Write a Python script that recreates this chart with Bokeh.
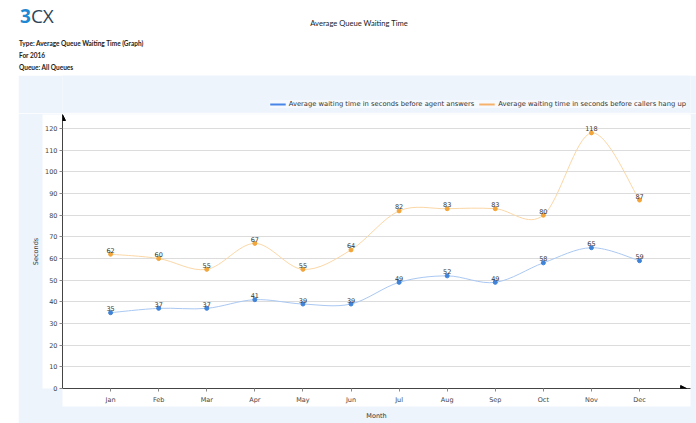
import numpy as np
from bokeh.plotting import figure
from bokeh.layouts import column, row
from bokeh.models import (Range1d, FixedTicker, Legend, LegendItem, Arrow, NormalHead,
                          ColumnDataSource, LabelSet, Div, Spacer, Title)
from bokeh.core.properties import value
from bokeh.embed import file_html
from bokeh.resources import INLINE

# ---- data ----
months = ["Jan", "Feb", "Mar", "Apr", "May", "Jun", "Jul", "Aug", "Sep", "Oct", "Nov", "Dec"]
agent_answers = [35, 37, 37, 41, 39, 39, 49, 52, 49, 58, 65, 59]
callers_hang_up = [62, 60, 55, 67, 55, 64, 82, 83, 83, 80, 118, 87]
y_ticks = [0, 10, 20, 30, 40, 50, 60, 70, 80, 90, 100, 110, 120]
series_names = ["Average waiting time in seconds before agent answers",
                "Average waiting time in seconds before callers hang up"]
chart_title = "Average Queue Waiting Time"
info_lines = ["Type: Average Queue Waiting Time (Graph)", "For 2016", "Queue: All Queues"]
x_title = "Month"
y_title = "Seconds"

W = 696
HEAD_H = 75
LEG_H = 38
MAIN_H = 310
LEFT_PAD = 18
FONT = "DejaVu Sans"
PANEL = "#edf4fc"
xs = list(range(len(months)))

series = [(agent_answers, "#aac8f2", "#3f83d8", "#4a86e8"),
          (callers_hang_up, "#fbd7a6", "#f2a53a", "#f6b26b")]

# ================= header (HTML text) =================
info_html = "".join(
    f'<div style="position:absolute;left:19px;top:{40 + 12 * i}px;font-size:6.5px;line-height:8px;'
    f'font-weight:bold;white-space:nowrap;">{t}</div>' for i, t in enumerate(info_lines))
header_html = (
    f'<div style="position:relative;width:{W}px;height:{HEAD_H}px;font-family:Lato,sans-serif;color:#222;">'
    '<div style="position:absolute;left:20px;top:6px;font-family:\'Open Sans\';font-size:19px;'
    'line-height:20px;white-space:nowrap;"><span style="color:#1f88d2;font-weight:bold;">3</span>'
    '<span style="color:#2d4458;">CX</span></div>'
    f'<div style="position:absolute;left:0px;width:718px;top:18px;text-align:center;font-size:7.6px;'
    f'line-height:10px;white-space:nowrap;">{chart_title}</div>'
    + info_html + '</div>')
div_kw = dict(text=header_html, width=W, height=HEAD_H)
if "margin" in Div.properties():
    div_kw["margin"] = (0, 0, 0, 0)
header = Div(**div_kw)

# ================= legend band =================
leg = figure(width=W - LEFT_PAD, height=LEG_H, output_backend="svg", toolbar_location=None,
             x_range=Range1d(0, 1), y_range=Range1d(0, 1),
             x_axis_location=None, y_axis_location=None,
             min_border_left=44, min_border_right=6, min_border_top=0, min_border_bottom=1)
leg.grid.visible = False
leg.outline_line_color = None
leg.border_fill_color = PANEL
leg.background_fill_color = PANEL
items = []
for (vals, curve_col, mark_col, legend_col), name in zip(series, series_names):
    dummy = leg.line([np.nan], [np.nan], line_color=legend_col, line_width=2)
    items.append(LegendItem(label=name, renderers=[dummy]))
legend = Legend(items=items, orientation="horizontal", location="bottom_right",
                label_text_font=FONT, label_text_font_size="6.75px", label_text_color="#333333",
                glyph_width=16, glyph_height=8, label_height=8, spacing=5, padding=4, margin=4,
                background_fill_color="#f6fafe", background_fill_alpha=1, border_line_color=None,
                label_standoff=3)
leg.add_layout(legend)

# ================= main chart =================
p = figure(width=W - LEFT_PAD, height=MAIN_H, output_backend="svg", toolbar_location=None,
           x_range=Range1d(-1, 12.06), y_range=Range1d(0, 126.5),
           min_border_left=44, min_border_right=6, min_border_top=1, min_border_bottom=33)
p.border_fill_color = PANEL
p.background_fill_color = "white"
p.outline_line_color = None

# grid
p.xgrid.grid_line_color = None
p.ygrid.ticker = FixedTicker(ticks=y_ticks)
p.ygrid.grid_line_color = "#dcdcdc"
p.ygrid.grid_line_width = 1

# axes
for ax in (p.xaxis[0], p.yaxis[0]):
    ax.axis_line_color = "#444444"
    ax.axis_line_width = 1
    ax.major_tick_line_color = "#888888"
    ax.minor_tick_line_color = None
    ax.major_tick_in = 0
    ax.major_tick_out = 3
    ax.major_label_text_font = FONT
    ax.major_label_text_font_size = "6.5px"
    ax.major_label_text_color = "#444444"
    if "background_fill_color" in ax.properties():
        ax.background_fill_color = "white"
        ax.background_fill_alpha = 1
p.xaxis.ticker = FixedTicker(ticks=xs)
p.xaxis.major_label_overrides = {i: m for i, m in enumerate(months)}
p.xaxis.major_label_standoff = 4
p.yaxis.ticker = FixedTicker(ticks=y_ticks)
p.yaxis.major_label_standoff = 2

# axis titles
def axis_title(text, standoff):
    kw = dict(text=text, align="center", text_font=FONT, text_font_size="6.5px",
              text_font_style="normal", text_color="#333333")
    if "standoff" in Title.properties():
        kw["standoff"] = standoff
    return Title(**kw)

p.add_layout(axis_title(y_title, 5), "left")
p.add_layout(axis_title(x_title, 7), "below")

# axis arrows
p.add_layout(Arrow(end=NormalHead(size=6, fill_color="black", line_color="black"),
                   x_start=p.x_range.start, y_start=0, x_end=p.x_range.start, y_end=p.y_range.end,
                   line_color=None))
p.add_layout(Arrow(end=NormalHead(size=6, fill_color="black", line_color="black"),
                   x_start=p.x_range.start, y_start=0, x_end=p.x_range.end - 0.08, y_end=0,
                   line_color=None))


def bezier_source(x, y):
    x = np.asarray(x, float)
    y = np.asarray(y, float)
    n = len(x)
    xp = np.concatenate([[x[0]], x, [x[-1]]])
    yp = np.concatenate([[y[0]], y, [y[-1]]])
    i = np.arange(n - 1)
    cx0 = x[i] + (xp[i + 2] - xp[i]) / 6
    cy0 = y[i] + (yp[i + 2] - yp[i]) / 6
    cx1 = x[i + 1] - (xp[i + 3] - xp[i + 1]) / 6
    cy1 = y[i + 1] - (yp[i + 3] - yp[i + 1]) / 6
    return ColumnDataSource(dict(x0=x[:-1], y0=y[:-1], x1=x[1:], y1=y[1:],
                                 cx0=cx0, cy0=cy0, cx1=cx1, cy1=cy1))


for (vals, curve_col, mark_col, legend_col) in series:
    p.bezier(x0="x0", y0="y0", x1="x1", y1="y1", cx0="cx0", cy0="cy0", cx1="cx1", cy1="cy1",
             source=bezier_source(xs, vals), line_color=curve_col, line_width=1)
    src = ColumnDataSource(dict(x=xs, y=vals, t=[str(v) for v in vals]))
    p.scatter("x", "y", source=src, size=4, marker="circle", fill_color=mark_col, line_color=mark_col)
    p.add_layout(LabelSet(x="x", y="y", text="t", source=src, text_align="center",
                          text_baseline="middle", y_offset=4, text_font=value(FONT),
                          text_font_size=value("6.5px"), text_color="#333333"))

layout = column(header,
                row(Spacer(width=LEFT_PAD, height=LEG_H + MAIN_H), column(leg, p, spacing=0), spacing=0),
                spacing=0)
open("out.html", "w").write(file_html(layout, INLINE))
